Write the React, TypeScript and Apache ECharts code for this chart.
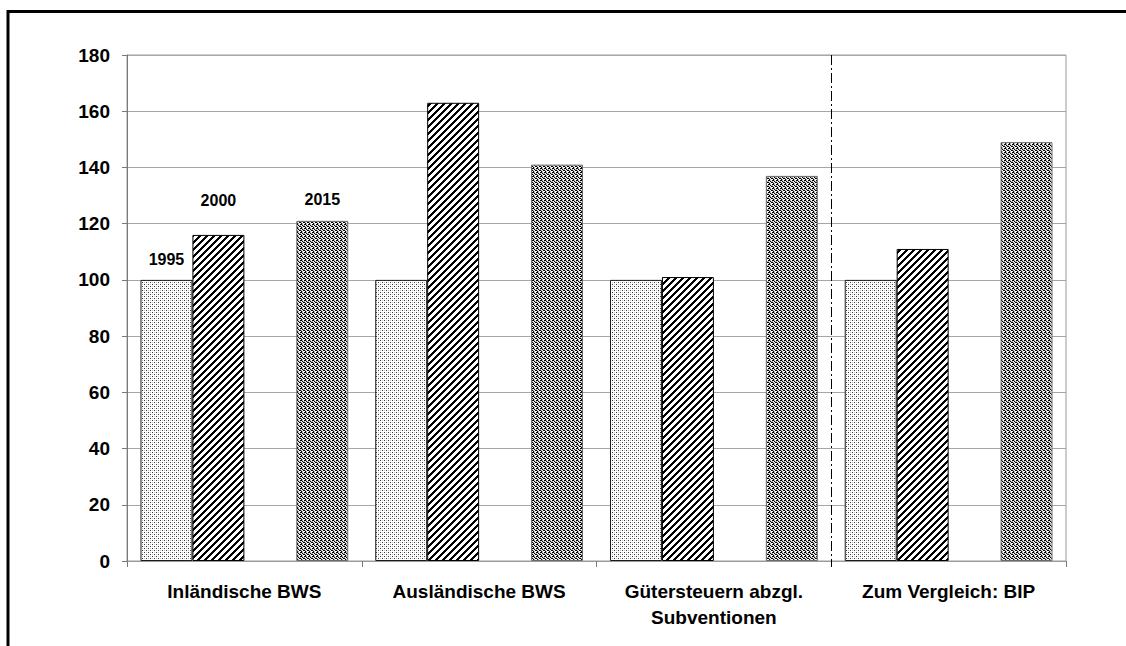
import React, { useEffect, useRef } from "react";
import * as echarts from "echarts";

// Index values (1995 = 100) per aggregate
const categories = [
  "Inländische BWS",
  "Ausländische BWS",
  "Gütersteuern abzgl.\nSubventionen",
  "Zum Vergleich: BIP",
];
const seriesNames = ["1995", "2000", "", "2015"];
const values1995 = [100, 100, 100, 100];
const values2000 = [116, 163, 101, 111];
const spacerSlot: (number | null)[] = [null, null, null, null];
const values2015 = [121, 141, 137, 149];
const yTicks = { min: 0, max: 180, step: 20 };

const FONT = "Arial, 'Liberation Sans', Helvetica, sans-serif";

function makeTile(w: number, h: number, paint: (x: number, y: number) => string | null) {
  const c = document.createElement("canvas");
  c.width = w;
  c.height = h;
  const ctx = c.getContext("2d")!;
  for (let y = 0; y < h; y++) {
    for (let x = 0; x < w; x++) {
      const col = paint(x, y);
      if (col) {
        ctx.fillStyle = col;
        ctx.fillRect(x, y, 1, 1);
      }
    }
  }
  return c;
}

function pattern(tile: HTMLCanvasElement) {
  return {
    image: tile,
    repeat: "repeat",
    imageWidth: tile.width,
    imageHeight: tile.height,
  } as any;
}

export default function App() {
  const ref = useRef<HTMLDivElement>(null);

  useEffect(() => {
    if (!ref.current) return;
    const chart = echarts.init(ref.current, undefined, { renderer: "svg" });

    // light fine dots
    const dotsLight = makeTile(4, 4, (x, y) => {
      if ((x === 0 && y === 0) || (x === 2 && y === 2)) return "#3a3a3a";
      if ((x === 2 && y === 0) || (x === 0 && y === 2)) return "#c8c8c8";
      return "#ffffff";
    });
    // diagonal "/" stripes
    const stripes = makeTile(7, 7, (x, y) => ((x + y) % 7 < 3 ? "#000000" : "#ffffff"));
    // medium speckle: black flecks on grey and white
    const K = "#000000";
    const G = "#b4b4b4";
    const W = "#ffffff";
    const speckleRows = [
      [K, K, G, W],
      [G, W, K, G],
      [K, G, W, K],
      [W, K, G, W],
    ];
    const speckle = makeTile(4, 4, (x, y) => speckleRows[y][x]);

    const fills = [pattern(dotsLight), pattern(stripes), "transparent", pattern(speckle)];
    const borders = ["#1a1a1a", "#000000", "transparent", "#6a6a6a"];
    const labelDistance = [12, 26, 0, 13];
    const seriesData = [values1995, values2000, spacerSlot, values2015];

    const series = seriesData.map((vals, si) => ({
      type: "bar" as const,
      name: seriesNames[si],
      barGap: "0%",
      barCategoryGap: "11.5%",
      itemStyle: {
        color: fills[si],
        borderColor: borders[si],
        borderWidth: si === 2 ? 0 : 1,
      },
      data: vals.map((v, ci) =>
        ci === 0 && v != null
          ? {
              value: v,
              label: {
                show: true,
                position: "top",
                distance: labelDistance[si],
                formatter: seriesNames[si],
                color: "#000",
                fontFamily: FONT,
                fontWeight: "bold",
                fontSize: 16,
              },
            }
          : v
      ),
    }));

    chart.setOption({
      animation: false,
      backgroundColor: "#ffffff",
      grid: {
        left: 127,
        top: 55,
        right: 60,
        bottom: 85,
        show: true,
        borderColor: "#9a9a9a",
        borderWidth: 1,
      },
      xAxis: {
        type: "category",
        data: categories,
        axisLine: { lineStyle: { color: "#9a9a9a", width: 1 } },
        axisTick: { show: true, length: 6, lineStyle: { color: "#7a7a7a" } },
        axisLabel: {
          interval: 0,
          margin: 17,
          color: "#000",
          fontFamily: FONT,
          fontWeight: "bold",
          fontSize: 19,
          lineHeight: 26,
        },
        splitLine: { show: false },
      },
      yAxis: {
        type: "value",
        min: yTicks.min,
        max: yTicks.max,
        interval: yTicks.step,
        axisLine: { show: true, lineStyle: { color: "#7a7a7a", width: 1 } },
        axisTick: { show: true, length: 5, lineStyle: { color: "#7a7a7a" } },
        axisLabel: {
          margin: 17,
          color: "#000",
          fontFamily: FONT,
          fontWeight: "bold",
          fontSize: 19,
        },
        splitLine: { show: true, lineStyle: { color: "#a6a6a6", width: 1 } },
      },
      series,
      graphic: [
        {
          id: "frame",
          type: "rect",
          shape: { x: 8, y: 11.5, width: 1300, height: 900 },
          style: { fill: "none", stroke: "#000", lineWidth: 3 },
          silent: true,
        },
      ],
    });

    // dash-dot separator between the last two groups
    const xA = chart.convertToPixel({ xAxisIndex: 0 }, 2) as number;
    const xB = chart.convertToPixel({ xAxisIndex: 0 }, 3) as number;
    const yTop = chart.convertToPixel({ yAxisIndex: 0 }, yTicks.max) as number;
    const yBottom = chart.convertToPixel({ yAxisIndex: 0 }, yTicks.min) as number;
    const xs = Math.round((xA + xB) / 2) + 0.5;
    chart.setOption({
      graphic: [
        {
          id: "separator",
          type: "line",
          shape: { x1: xs, y1: yTop, x2: xs, y2: yBottom + 6 },
          style: { stroke: "#000", lineWidth: 1, lineDash: [10, 3, 2, 3] },
          silent: true,
          z: 10,
        },
      ],
    });

    return () => chart.dispose();
  }, []);

  return (
    <div
      ref={ref}
      style={{ position: "fixed", left: 0, top: 0, width: 1126, height: 646 }}
    />
  );
}
